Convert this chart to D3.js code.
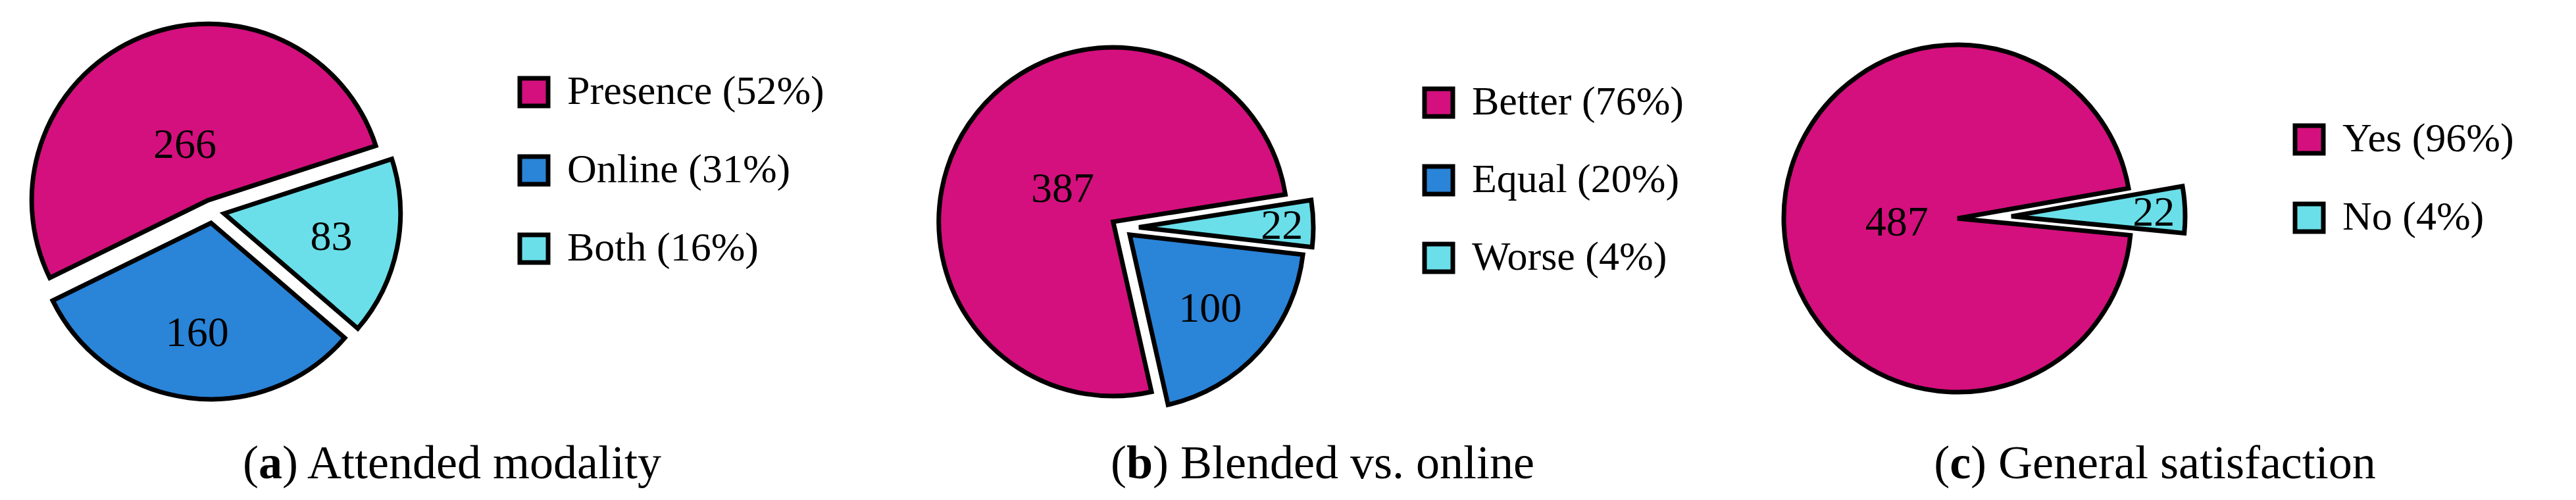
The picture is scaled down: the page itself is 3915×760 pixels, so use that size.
<!DOCTYPE html>
<html lang="en">
<head>
<meta charset="UTF-8">
<script src="https://d3js.org/d3.v7.min.js"></script>
<style>
  body { margin: 0; background: #fff; }
  text { font-family: "Liberation Serif", serif; fill: #000; }
</style>
<title>Survey pies</title>
</head>
<body>
<script>
// data, listed in legend order
const labelsA = ["Presence", "Online", "Both"];
const valuesA = [266, 160, 83];
const labelsB = ["Better", "Equal", "Worse"];
const valuesB = [387, 100, 22];
const labelsC = ["Yes", "No"];
const valuesC = [487, 22];
const captions = [["a", "Attended modality"], ["b", "Blended vs. online"], ["c", "General satisfaction"]];

const colors = ["#D4107E", "#2A84D8", "#6ADFE9"];

const width = 3915, height = 760;
const svg = d3.select("body").append("svg")
  .attr("width", width).attr("height", height);

const panels = [
  { labels: labelsA, values: valuesA, cx: 323, cy: 321, r: 268, start: 72, explode: [18, 18, 18],
    legX: 787, legY: 140, legStep: 119, capX: 687 },
  { labels: labelsB, values: valuesB, cx: 1705, cy: 346, r: 265, start: 81, explode: [16, 16, 26],
    legX: 2162, legY: 156, legStep: 118, capX: 2010 },
  { labels: labelsC, values: valuesC, cx: 2975, cy: 332, r: 264, start: 80, explode: [0, 82],
    legX: 3485, legY: 212, legStep: 119, capX: 3275 }
];

panels.forEach((p, k) => {
  const total = d3.sum(p.values);
  const items = p.values.map((v, i) => ({ v, i })).reverse(); // clockwise order
  const pie = d3.pie().sort(null).value(d => d.v)
    .startAngle(p.start * Math.PI / 180)
    .endAngle(p.start * Math.PI / 180 + 2 * Math.PI);
  const arc = d3.arc().innerRadius(0).outerRadius(p.r);
  const g = svg.append("g");

  const slices = pie(items);
  slices.forEach(s => {
    const mid = (s.startAngle + s.endAngle) / 2;
    const e = p.explode[s.data.i];
    const ox = p.cx + Math.sin(mid) * e, oy = p.cy - Math.cos(mid) * e;
    const sg = g.append("g").attr("transform", `translate(${ox},${oy})`);
    sg.append("path").attr("d", arc(s))
      .attr("fill", colors[s.data.i === p.values.length - 1 && p.values.length === 2 ? 2 : s.data.i])
      .attr("stroke", "#000").attr("stroke-width", 7).attr("stroke-linejoin", "miter");
    const share = s.data.v / total;
    const ld = share > 0.5 ? 0.35 * p.r : share < 0.1 ? 0.82 * p.r : 0.62 * p.r;
    sg.append("text")
      .attr("x", Math.sin(mid) * ld).attr("y", -Math.cos(mid) * ld)
      .attr("dy", "0.35em").attr("text-anchor", "middle")
      .attr("font-size", 64).text(s.data.v);
  });

  // legend
  p.labels.forEach((lab, i) => {
    const y = p.legY + i * p.legStep;
    const ci = (p.values.length === 2 && i === 1) ? 2 : i;
    svg.append("rect").attr("x", p.legX + 3).attr("y", y - 21)
      .attr("width", 43).attr("height", 42)
      .attr("fill", colors[ci]).attr("stroke", "#000").attr("stroke-width", 7);
    svg.append("text").attr("x", p.legX + 75).attr("y", y + 18)
      .attr("font-size", 62)
      .text(`${lab} (${Math.round(p.values[i] / total * 100)}%)`);
  });

  // caption
  const cap = svg.append("text").attr("x", p.capX).attr("y", 727)
    .attr("text-anchor", "middle").attr("font-size", 72);
  cap.append("tspan").text("(");
  cap.append("tspan").attr("font-weight", "bold").text(captions[k][0]);
  cap.append("tspan").text(") " + captions[k][1]);
});
</script>
</body>
</html>
